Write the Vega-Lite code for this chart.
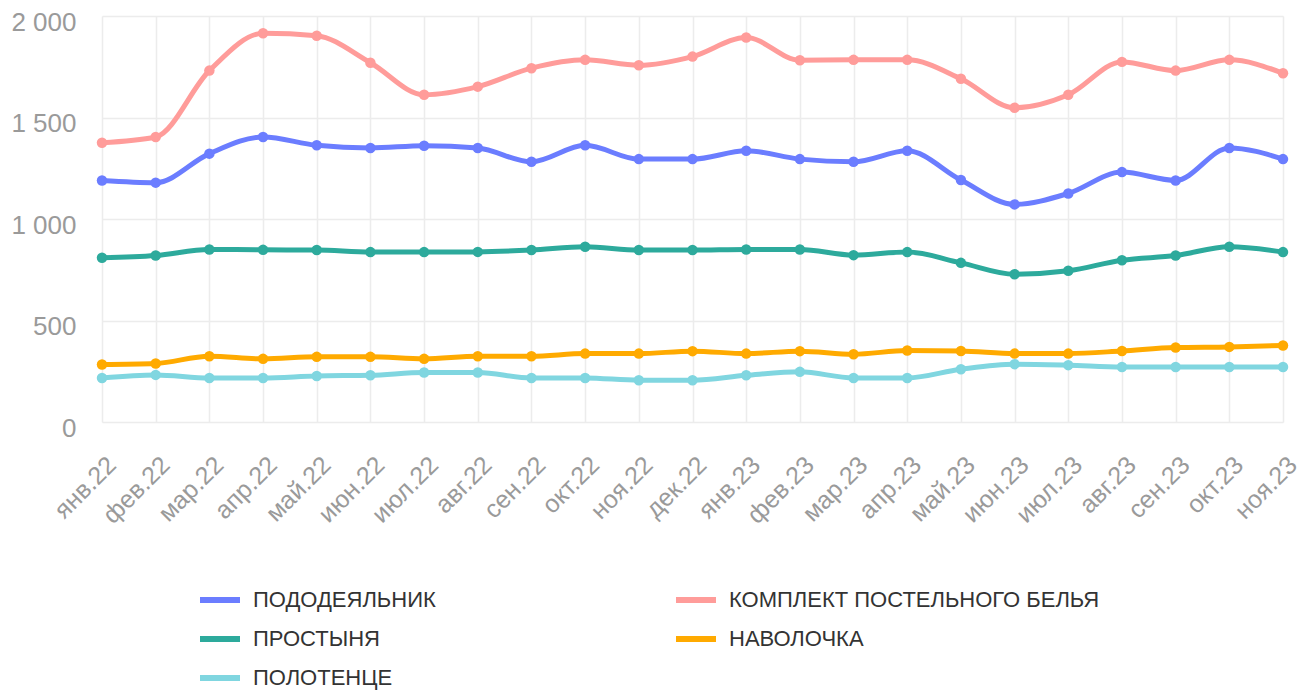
{
  "$schema": "https://vega.github.io/schema/vega-lite/v6.json",
  "width": 1181,
  "height": 406,
  "autosize": {"type": "none"},
  "padding": {"left": 102, "top": 16, "right": 19, "bottom": 271},
  "background": "white",
  "config": {
    "view": {"stroke": null},
    "font": "Liberation Sans",
    "axis": {"gridColor": "#ececec", "gridWidth": 1.5, "domain": false, "ticks": false, "labelColor": "#9a9a9a", "title": null}
  },
  "data": {"values": [
    {"m":"янв.22","s":"ПОДОДЕЯЛЬНИК","v":1190},{"m":"фев.22","s":"ПОДОДЕЯЛЬНИК","v":1179},{"m":"мар.22","s":"ПОДОДЕЯЛЬНИК","v":1322},{"m":"апр.22","s":"ПОДОДЕЯЛЬНИК","v":1404},{"m":"май.22","s":"ПОДОДЕЯЛЬНИК","v":1363},{"m":"июн.22","s":"ПОДОДЕЯЛЬНИК","v":1350},{"m":"июл.22","s":"ПОДОДЕЯЛЬНИК","v":1361},{"m":"авг.22","s":"ПОДОДЕЯЛЬНИК","v":1350},{"m":"сен.22","s":"ПОДОДЕЯЛЬНИК","v":1282},{"m":"окт.22","s":"ПОДОДЕЯЛЬНИК","v":1363},{"m":"ноя.22","s":"ПОДОДЕЯЛЬНИК","v":1295},{"m":"дек.22","s":"ПОДОДЕЯЛЬНИК","v":1295},{"m":"янв.23","s":"ПОДОДЕЯЛЬНИК","v":1336},{"m":"фев.23","s":"ПОДОДЕЯЛЬНИК","v":1295},{"m":"мар.23","s":"ПОДОДЕЯЛЬНИК","v":1282},{"m":"апр.23","s":"ПОДОДЕЯЛЬНИК","v":1336},{"m":"май.23","s":"ПОДОДЕЯЛЬНИК","v":1192},{"m":"июн.23","s":"ПОДОДЕЯЛЬНИК","v":1072},{"m":"июл.23","s":"ПОДОДЕЯЛЬНИК","v":1126},{"m":"авг.23","s":"ПОДОДЕЯЛЬНИК","v":1231},{"m":"сен.23","s":"ПОДОДЕЯЛЬНИК","v":1190},{"m":"окт.23","s":"ПОДОДЕЯЛЬНИК","v":1350},{"m":"ноя.23","s":"ПОДОДЕЯЛЬНИК","v":1295},
    {"m":"янв.22","s":"КОМПЛЕКТ ПОСТЕЛЬНОГО БЕЛЬЯ","v":1376},{"m":"фев.22","s":"КОМПЛЕКТ ПОСТЕЛЬНОГО БЕЛЬЯ","v":1404},{"m":"мар.22","s":"КОМПЛЕКТ ПОСТЕЛЬНОГО БЕЛЬЯ","v":1731},{"m":"апр.22","s":"КОМПЛЕКТ ПОСТЕЛЬНОГО БЕЛЬЯ","v":1915},{"m":"май.22","s":"КОМПЛЕКТ ПОСТЕЛЬНОГО БЕЛЬЯ","v":1903},{"m":"июн.22","s":"КОМПЛЕКТ ПОСТЕЛЬНОГО БЕЛЬЯ","v":1770},{"m":"июл.22","s":"КОМПЛЕКТ ПОСТЕЛЬНОГО БЕЛЬЯ","v":1612},{"m":"авг.22","s":"КОМПЛЕКТ ПОСТЕЛЬНОГО БЕЛЬЯ","v":1652},{"m":"сен.22","s":"КОМПЛЕКТ ПОСТЕЛЬНОГО БЕЛЬЯ","v":1743},{"m":"окт.22","s":"КОМПЛЕКТ ПОСТЕЛЬНОГО БЕЛЬЯ","v":1784},{"m":"ноя.22","s":"КОМПЛЕКТ ПОСТЕЛЬНОГО БЕЛЬЯ","v":1757},{"m":"дек.22","s":"КОМПЛЕКТ ПОСТЕЛЬНОГО БЕЛЬЯ","v":1800},{"m":"янв.23","s":"КОМПЛЕКТ ПОСТЕЛЬНОГО БЕЛЬЯ","v":1894},{"m":"фев.23","s":"КОМПЛЕКТ ПОСТЕЛЬНОГО БЕЛЬЯ","v":1782},{"m":"мар.23","s":"КОМПЛЕКТ ПОСТЕЛЬНОГО БЕЛЬЯ","v":1784},{"m":"апр.23","s":"КОМПЛЕКТ ПОСТЕЛЬНОГО БЕЛЬЯ","v":1784},{"m":"май.23","s":"КОМПЛЕКТ ПОСТЕЛЬНОГО БЕЛЬЯ","v":1691},{"m":"июн.23","s":"КОМПЛЕКТ ПОСТЕЛЬНОГО БЕЛЬЯ","v":1548},{"m":"июл.23","s":"КОМПЛЕКТ ПОСТЕЛЬНОГО БЕЛЬЯ","v":1612},{"m":"авг.23","s":"КОМПЛЕКТ ПОСТЕЛЬНОГО БЕЛЬЯ","v":1774},{"m":"сен.23","s":"КОМПЛЕКТ ПОСТЕЛЬНОГО БЕЛЬЯ","v":1731},{"m":"окт.23","s":"КОМПЛЕКТ ПОСТЕЛЬНОГО БЕЛЬЯ","v":1784},{"m":"ноя.23","s":"КОМПЛЕКТ ПОСТЕЛЬНОГО БЕЛЬЯ","v":1718},
    {"m":"янв.22","s":"ПРОСТЫНЯ","v":809},{"m":"фев.22","s":"ПРОСТЫНЯ","v":820},{"m":"мар.22","s":"ПРОСТЫНЯ","v":850},{"m":"апр.22","s":"ПРОСТЫНЯ","v":848},{"m":"май.22","s":"ПРОСТЫНЯ","v":847},{"m":"июн.22","s":"ПРОСТЫНЯ","v":837},{"m":"июл.22","s":"ПРОСТЫНЯ","v":837},{"m":"авг.22","s":"ПРОСТЫНЯ","v":838},{"m":"сен.22","s":"ПРОСТЫНЯ","v":847},{"m":"окт.22","s":"ПРОСТЫНЯ","v":863},{"m":"ноя.22","s":"ПРОСТЫНЯ","v":847},{"m":"дек.22","s":"ПРОСТЫНЯ","v":847},{"m":"янв.23","s":"ПРОСТЫНЯ","v":850},{"m":"фев.23","s":"ПРОСТЫНЯ","v":850},{"m":"мар.23","s":"ПРОСТЫНЯ","v":822},{"m":"апр.23","s":"ПРОСТЫНЯ","v":837},{"m":"май.23","s":"ПРОСТЫНЯ","v":784},{"m":"июн.23","s":"ПРОСТЫНЯ","v":728},{"m":"июл.23","s":"ПРОСТЫНЯ","v":745},{"m":"авг.23","s":"ПРОСТЫНЯ","v":797},{"m":"сен.23","s":"ПРОСТЫНЯ","v":820},{"m":"окт.23","s":"ПРОСТЫНЯ","v":863},{"m":"ноя.23","s":"ПРОСТЫНЯ","v":837},
    {"m":"янв.22","s":"НАВОЛОЧКА","v":283},{"m":"фев.22","s":"НАВОЛОЧКА","v":288},{"m":"мар.22","s":"НАВОЛОЧКА","v":324},{"m":"апр.22","s":"НАВОЛОЧКА","v":311},{"m":"май.22","s":"НАВОЛОЧКА","v":321},{"m":"июн.22","s":"НАВОЛОЧКА","v":321},{"m":"июл.22","s":"НАВОЛОЧКА","v":311},{"m":"авг.22","s":"НАВОЛОЧКА","v":324},{"m":"сен.22","s":"НАВОЛОЧКА","v":324},{"m":"окт.22","s":"НАВОЛОЧКА","v":337},{"m":"ноя.22","s":"НАВОЛОЧКА","v":337},{"m":"дек.22","s":"НАВОЛОЧКА","v":349},{"m":"янв.23","s":"НАВОЛОЧКА","v":337},{"m":"фев.23","s":"НАВОЛОЧКА","v":349},{"m":"мар.23","s":"НАВОЛОЧКА","v":334},{"m":"апр.23","s":"НАВОЛОЧКА","v":352},{"m":"май.23","s":"НАВОЛОЧКА","v":350},{"m":"июн.23","s":"НАВОЛОЧКА","v":337},{"m":"июл.23","s":"НАВОЛОЧКА","v":337},{"m":"авг.23","s":"НАВОЛОЧКА","v":350},{"m":"сен.23","s":"НАВОЛОЧКА","v":367},{"m":"окт.23","s":"НАВОЛОЧКА","v":370},{"m":"ноя.23","s":"НАВОЛОЧКА","v":377},
    {"m":"янв.22","s":"ПОЛОТЕНЦЕ","v":217},{"m":"фев.22","s":"ПОЛОТЕНЦЕ","v":232},{"m":"мар.22","s":"ПОЛОТЕНЦЕ","v":217},{"m":"апр.22","s":"ПОЛОТЕНЦЕ","v":217},{"m":"май.22","s":"ПОЛОТЕНЦЕ","v":227},{"m":"июн.22","s":"ПОЛОТЕНЦЕ","v":230},{"m":"июл.22","s":"ПОЛОТЕНЦЕ","v":244},{"m":"авг.22","s":"ПОЛОТЕНЦЕ","v":244},{"m":"сен.22","s":"ПОЛОТЕНЦЕ","v":217},{"m":"окт.22","s":"ПОЛОТЕНЦЕ","v":217},{"m":"ноя.22","s":"ПОЛОТЕНЦЕ","v":206},{"m":"дек.22","s":"ПОЛОТЕНЦЕ","v":206},{"m":"янв.23","s":"ПОЛОТЕНЦЕ","v":230},{"m":"фев.23","s":"ПОЛОТЕНЦЕ","v":247},{"m":"мар.23","s":"ПОЛОТЕНЦЕ","v":217},{"m":"апр.23","s":"ПОЛОТЕНЦЕ","v":217},{"m":"май.23","s":"ПОЛОТЕНЦЕ","v":260},{"m":"июн.23","s":"ПОЛОТЕНЦЕ","v":285},{"m":"июл.23","s":"ПОЛОТЕНЦЕ","v":280},{"m":"авг.23","s":"ПОЛОТЕНЦЕ","v":271},{"m":"сен.23","s":"ПОЛОТЕНЦЕ","v":271},{"m":"окт.23","s":"ПОЛОТЕНЦЕ","v":271},{"m":"ноя.23","s":"ПОЛОТЕНЦЕ","v":271}
  ]},
  "encoding": {
    "x": {"field": "m", "type": "ordinal", "sort": null, "scale": {"type": "point", "padding": 0},
      "axis": {"labelAngle": -45, "labelFontSize": 25, "labelPadding": 30, "labelOffset": 1, "grid": true}},
    "y": {"field": "v", "type": "quantitative", "scale": {"domain": [0, 2000], "nice": false},
      "axis": {"values": [0, 500, 1000, 1500, 2000], "labelFontSize": 26, "labelPadding": 26, "labelOffset": 6,
        "labelExpr": "replace(format(datum.value, ',d'), ',', ' ')"}},
    "color": {"field": "s", "type": "nominal",
      "scale": {"domain": ["ПОДОДЕЯЛЬНИК", "КОМПЛЕКТ ПОСТЕЛЬНОГО БЕЛЬЯ", "ПРОСТЫНЯ", "НАВОЛОЧКА", "ПОЛОТЕНЦЕ"],
        "range": ["#6b7dff", "#ff9c9a", "#2daa9c", "#ffaa00", "#80d6e0"]},
      "legend": {"title": null, "orient": "none", "direction": "horizontal", "legendX": 95, "legendY": 561, "columns": 2, "symbolType": "stroke", "symbolStrokeWidth": 6,
        "symbolSize": 1600, "labelFontSize": 22, "labelColor": "#333333", "labelLimit": 600, "columnPadding": 228, "rowPadding": 4,
        "labelOffset": 10, "labelBaseline": "middle"}}
  },
  "layer": [
    {"mark": {"type": "line", "interpolate": "monotone", "strokeWidth": 5}},
    {"mark": {"type": "point", "filled": true, "size": 110, "opacity": 1}}
  ]
}
